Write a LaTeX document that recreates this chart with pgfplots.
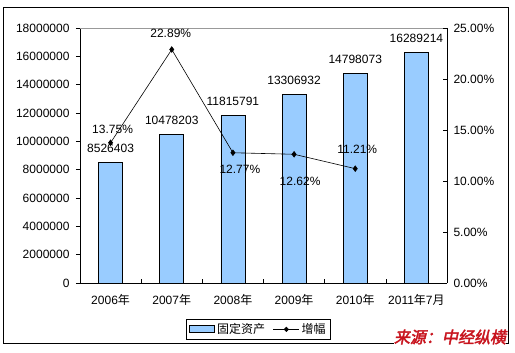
\documentclass[border=0pt]{standalone}
\usepackage{pgfplots}
\pgfplotsset{compat=1.18}
\usepackage{fontspec}
\setmainfont{Liberation Sans}
\newfontfamily\cjk{Noto Sans CJK SC}
\newfontfamily\cjkb[FakeBold=2.5,FakeSlant=0.2]{Noto Sans CJK SC}
\definecolor{barblue}{RGB}{153,204,255}
\definecolor{srcred}{RGB}{200,20,30}
\begin{document}
\begin{tikzpicture}[x=1pt,y=1pt]
\path[use as bounding box] (0,0) rectangle (515,353);
\draw[black, line width=0.9pt] (3,10) rectangle (508,346);
\begin{axis}[
  at={(80pt,70pt)}, anchor=south west,
  scale only axis, width=367pt, height=255pt,
  xmin=-0.5, xmax=5.5, ymin=0, ymax=18000000,
  axis x line*=bottom, axis y line*=left,
  axis line style={black, line width=0.7pt, -},
  tick style={black, line width=0.6pt},
  tick align=outside, major tick length=4pt,
  xtick={0,...,5},
  xticklabels={2006{\cjk 年},2007{\cjk 年},2008{\cjk 年},2009{\cjk 年},2010{\cjk 年},2011{\cjk 年}7{\cjk 月}},
  x tick label style={font=\fontsize{12}{14}\selectfont, yshift=-4pt},
  major x tick style={draw=none},
  extra x ticks={0.5,1.5,2.5,3.5,4.5},
  extra x tick labels={},
  extra x tick style={tick align=inside, major x tick style={draw=black}},
  ytick={0,2000000,4000000,6000000,8000000,10000000,12000000,14000000,16000000,18000000},
  scaled y ticks=false,
  yticklabel={\pgfmathprintnumber[fixed,1000 sep={},precision=0]{\tick}},
  y tick label style={font=\fontsize{12}{14}\selectfont, xshift=-3pt},
  /pgf/number format/assume math mode=true,
  clip=false,
]
\draw[gray!80, line width=0.6pt] (rel axis cs:0,1) -- (rel axis cs:1,1);
\addplot[ybar, bar width=24pt, fill=barblue, draw=black, line width=0.7pt,
  point meta=explicit symbolic,
  nodes near coords,
  every node near coord/.append style={anchor=center, yshift=14pt, font=\fontsize{12}{14}\selectfont, black}]
  table[x=x, y=y, meta=lab] {
x y lab
0 8526403 8526403
1 10478203 10478203
2 11815791 11815791
3 13306932 13306932
4 14798073 14798073
5 16289214 16289214
};
\end{axis}
\begin{axis}[
  at={(80pt,70pt)}, anchor=south west,
  scale only axis, width=367pt, height=255pt,
  xmin=-0.5, xmax=5.5, ymin=0, ymax=25,
  axis x line=none, axis y line*=right,
  axis line style={black, line width=0.7pt, -},
  tick style={black, line width=0.6pt},
  tick align=inside, major tick length=4pt,
  ytick={0,5,10,15,20,25},
  yticklabel={\pgfmathprintnumber[fixed,fixed zerofill,precision=2]{\tick}\%},
  y tick label style={font=\fontsize{12}{14}\selectfont, xshift=3pt},
  /pgf/number format/assume math mode=true,
  clip=false,
  legend style={at={(0.2888,-0.2235)}, anchor=south west, draw=black, line width=0.7pt,
    font=\fontsize{12}{13}\selectfont\cjk, legend columns=2, inner xsep=3pt, inner ysep=2.5pt,
    /tikz/every even column/.append style={column sep=6pt}},
  legend cell align=left,
]
\addlegendimage{legend image code/.code={\draw[fill=barblue, draw=black, line width=0.7pt] (0pt,-3.5pt) rectangle (25pt,3.5pt);}}
\addlegendentry{固定资产}
\addplot[black, line width=0.6pt, mark=diamond*, mark size=2.8pt, mark options={solid, fill=black},
  legend image code/.code={\draw[black, line width=0.6pt] (0pt,0pt) -- (26pt,0pt); \fill[black] (13pt,0pt) +(-2.2pt,0) -- +(0,2.2pt) -- +(2.2pt,0) -- +(0,-2.2pt) -- cycle;}]
  coordinates {(0,13.75) (1,22.89) (2,12.77) (3,12.62) (4,11.21)};
\addlegendentry{增幅}
\addplot[draw=none, forget plot,
  point meta=y,
  visualization depends on={\thisrow{dy} \as \dy},
  visualization depends on={\thisrow{dx} \as \dx},
  nodes near coords={\pgfmathprintnumber[fixed,fixed zerofill,precision=2]{\pgfplotspointmeta}\%},
  every node near coord/.append style={anchor=center, yshift=\dy pt, xshift=\dx pt, font=\fontsize{12}{14}\selectfont, black}]
  table[x=x, y=y] {
x y dy dx
0 13.75 13 2
1 22.89 16 -1
2 12.77 -17 7
3 12.62 -27 6
4 11.21 19 2
};
\end{axis}
\node[font=\fontsize{16}{18}\cjkb, text=srcred, inner sep=0pt, fill=white] at (450,16) {来源：中经纵横};
\end{tikzpicture}
\end{document}
